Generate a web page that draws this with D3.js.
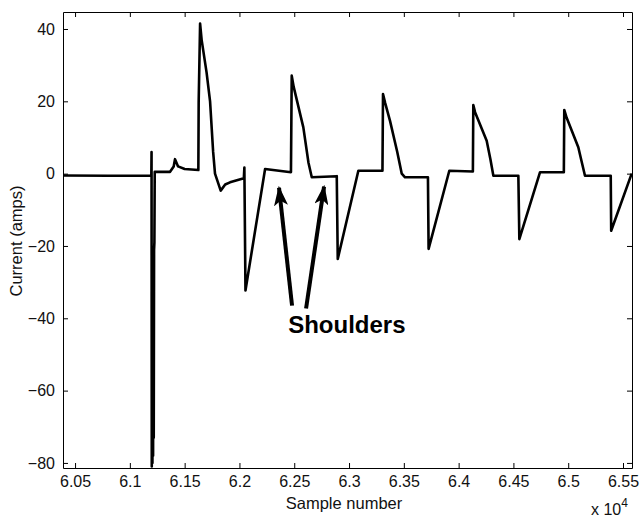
<!DOCTYPE html>
<html>
<head>
<meta charset="utf-8">
<script src="https://cdn.jsdelivr.net/npm/d3@7"></script>
<style>
  body { margin: 0; background: #fff; }
  svg { display: block; font-family: "Liberation Sans", Arial, sans-serif; }
  .axis path, .axis line { stroke: #000; stroke-width: 1; }
  .axis text { fill: #111; font-size: 16px; }
</style>
</head>
<body>
<svg id="chart" width="640" height="517"></svg>
<script>
// current trace, [sample number, amps]
const trace = [
  [60390, -0.5], [60800, -0.6], [61196, -0.5], [61198, 6], [61200, -81],
  [61203, -21], [61206, -80], [61209, -21], [61212, -78], [61215, -21],
  [61218, -73], [61221, -21], [61224, -19], [61227, 0.5], [61367, 0.5],
  [61400, 2], [61412, 4], [61440, 2], [61500, 1.3], [61625, 1],
  [61628, 19.7], [61641, 41.5], [61655, 37], [61700, 28], [61732, 20],
  [61760, 6], [61777, 0], [61829, -4.7], [61870, -3], [61914, -2.4],
  [62040, -1.3], [62045, 1.7], [62055, -32.3], [62234, 1.3], [62470, 0.4],
  [62477, 27.1], [62495, 24], [62583, 12.8], [62630, 3], [62660, -1.0],
  [62888, -0.7], [62897, -23.6], [63085, 0.8], [63305, 0.8], [63310, 22],
  [63330, 19.5], [63374, 14.6], [63440, 6], [63481, 0], [63511, -1],
  [63720, -1], [63726, -20.8], [63915, 0.8], [64130, 0.6], [64134, 19],
  [64150, 17], [64256, 9.1], [64290, 4], [64317, -0.6], [64545, -0.6],
  [64554, -18.1], [64743, 0.4], [64960, 0.4], [64964, 17.6], [64985, 15.5],
  [65092, 7.3], [65125, 3], [65153, -0.6], [65388, -0.6], [65392, -15.8],
  [65579, 0]
];

const xTicks = [60500, 61000, 61500, 62000, 62500, 63000, 63500, 64000, 64500, 65000, 65500];
const yTicks = [-80, -60, -40, -20, 0, 20, 40];

// arrows: [tail sample, tail amps, tip sample, tip amps]
const arrows = [
  [62480, -36.5, 62361, -3.9],
  [62608, -37.3, 62772, -3.6]
];
const noteLabel = "Shoulders";
const notePos = [62980, -44];

const svg = d3.select("svg#chart");
const box = { left: 63, right: 632, top: 12, bottom: 468 };

const x = d3.scaleLinear().domain([60390, 65582]).range([box.left, box.right]);
const y = d3.scaleLinear().domain([-81.4, 44.7]).range([box.bottom, box.top]);

// axes, matlab style: ticks inward on all four sides
svg.append("g").attr("class", "axis")
  .attr("transform", translate(0, box.bottom))
  .call(d3.axisBottom(x).tickValues(xTicks).tickSize(-5).tickSizeOuter(0).tickPadding(8)
    .tickFormat(d => String(+(d / 1e4).toFixed(2))));
svg.append("g").attr("class", "axis")
  .attr("transform", translate(0, box.top))
  .call(d3.axisTop(x).tickValues(xTicks).tickSize(-5).tickSizeOuter(0).tickFormat(""));
svg.append("g").attr("class", "axis")
  .attr("transform", translate(box.left, 0))
  .call(d3.axisLeft(y).tickValues(yTicks).tickSize(-5).tickSizeOuter(0).tickPadding(8));
svg.append("g").attr("class", "axis")
  .attr("transform", translate(box.right, 0))
  .call(d3.axisRight(y).tickValues(yTicks).tickSize(-5).tickSizeOuter(0).tickFormat(""));

svg.selectAll(".axis text").attr("font-family", null);

// the trace
const line = d3.line().x(d => x(d[0])).y(d => y(d[1]));
svg.append("path")
  .datum(trace)
  .attr("d", line)
  .attr("fill", "none")
  .attr("stroke", "#000")
  .attr("stroke-width", 2.6)
  .attr("stroke-linejoin", "round");

// arrow annotations
svg.append("defs").append("marker")
  .attr("id", "head")
  .attr("viewBox", "0 0 20 14")
  .attr("refX", 18).attr("refY", 7)
  .attr("markerUnits", "userSpaceOnUse")
  .attr("markerWidth", 20).attr("markerHeight", 14)
  .attr("orient", "auto")
  .append("path")
  .attr("d", "M0,0 L20,7 L0,14 L5,7 Z")
  .attr("fill", "#000");

svg.selectAll("line.arrow")
  .data(arrows)
  .enter()
  .append("line")
  .attr("class", "arrow")
  .attr("x1", d => x(d[0])).attr("y1", d => y(d[1]))
  .attr("x2", d => x(d[2])).attr("y2", d => y(d[3]))
  .attr("stroke", "#000")
  .attr("stroke-width", 4)
  .attr("marker-end", "url(#head)");

svg.append("text")
  .attr("x", x(notePos[0])).attr("y", y(notePos[1]))
  .attr("text-anchor", "middle")
  .attr("font-size", 24).attr("font-weight", "bold")
  .text(noteLabel);

// axis titles
svg.append("text")
  .attr("x", 344).attr("y", 509)
  .attr("text-anchor", "middle")
  .attr("font-size", 16.5).attr("fill", "#111")
  .text("Sample number");

svg.append("text")
  .attr("transform", translate(22, 241) + " rotate(-90)")
  .attr("text-anchor", "middle")
  .attr("font-size", 16.5).attr("fill", "#111")
  .text("Current (amps)");

const mult = svg.append("text")
  .attr("x", 591).attr("y", 515)
  .attr("font-size", 16).attr("fill", "#111");
mult.append("tspan").text("x 10");
mult.append("tspan").attr("dy", -8).attr("font-size", 12).text("4");

function translate(x, y) {
  return "translate(" + String(x) + "," + String(y) + ")";
}
</script>
</body>
</html>
